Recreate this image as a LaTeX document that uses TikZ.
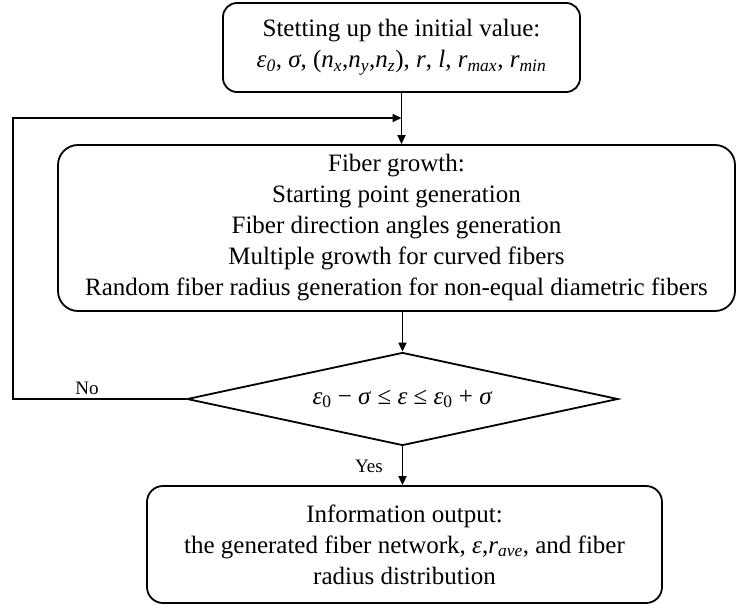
\documentclass[tikz,border=0pt]{standalone}
\usepackage{fontspec}
\setmainfont{Liberation Serif}
\usetikzlibrary{shapes.geometric,arrows.meta}
\newcommand{\sbi}[1]{\textsubscript{\itshape #1}}
\newcommand{\sbu}[1]{\textsubscript{#1}}
\begin{document}
\begin{tikzpicture}[x=1pt,y=-1pt,
  box/.style={draw, line width=1.8pt, rounded corners=14pt, align=center, inner sep=0pt,
    font=\fontsize{25}{31}\selectfont},
  dia/.style={draw, line width=1.8pt, diamond, shape aspect=4.63, inner sep=0pt, font=\fontsize{25}{31}\selectfont},
  arr/.style={line width=1.8pt, -{Triangle[length=9pt,width=8pt]}},
  lbl/.style={inner sep=0pt, font=\fontsize{19}{22}\selectfont}]
\useasboundingbox (0,0) rectangle (737,605);
\node[box, minimum width=357, minimum height=89] (init) at (401.5,47.5)
  {Stetting up the initial value:\\
   \textit{ε}\sbi{0}, \textit{σ}, (\textit{n}\sbi{x},\textit{n}\sbi{y},\textit{n}\sbi{z}), \textit{r}, \textit{l}, \textit{r}\sbi{max}, \textit{r}\sbi{min}};
\node[box, rounded corners=20pt, minimum width=677, minimum height=166] (grow) at (396.5,228)
  {Fiber growth:\\
   Starting point generation\\
   Fiber direction angles generation\\
   Multiple growth for curved fibers\\
   Random fiber radius generation for non-equal diametric fibers};
\node[dia, minimum width=431, minimum height=93] (dec) at (402.5,399)
  {\textit{ε}\sbu{0} − \textit{σ} ≤ \textit{ε} ≤ \textit{ε}\sbu{0} + \textit{σ}};
\node[box, rounded corners=16pt, minimum width=515, minimum height=117] (out) at (404.5,544.5)
  {Information output:\\
   the generated fiber network, \textit{ε},\textit{r}\sbi{ave}, and fiber\\
   radius distribution};
\coordinate (fb) at (13,118);
\draw[arr] (init.south) -- (init.south |- grow.north);
\draw[arr] (grow.south -| dec.north) -- (dec.north);
\draw[arr] (dec.south) -- (dec.south |- out.north);
\draw[arr] (dec.west) -| (fb) -- (fb -| init.south);
\node[lbl] (no) at (87,388) {No};
\node[lbl] (yes) at (369,466) {Yes};
\end{tikzpicture}
\end{document}
